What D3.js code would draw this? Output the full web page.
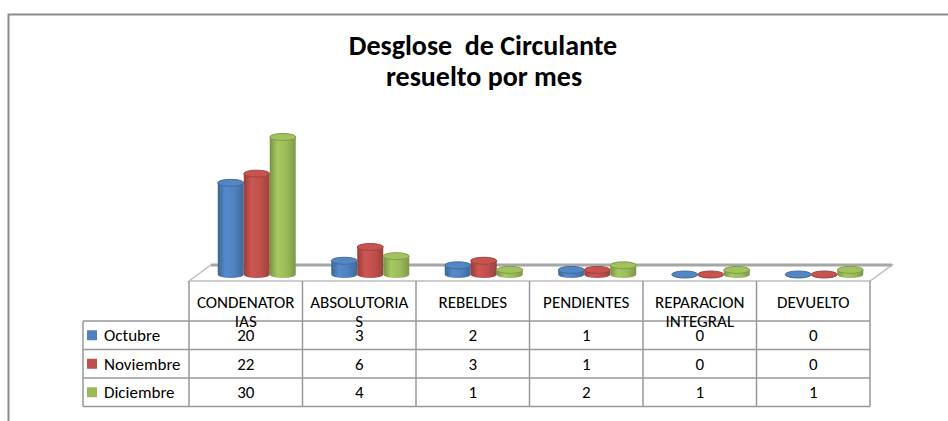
<!DOCTYPE html>
<html>
<head>
<meta charset="utf-8">
<script src="https://cdn.jsdelivr.net/npm/d3@7"></script>
<style>
  body { margin: 0; background: #fff; }
  text { font-family: Carlito, Calibri, Lato, sans-serif; }
</style>
</head>
<body>
<div id="chart"></div>
<script>
// data
var categories = ["CONDENATORIAS", "ABSOLUTORIAS", "REBELDES", "PENDIENTES", "REPARACION INTEGRAL", "DEVUELTO"];
var tickLabels = [["CONDENATOR", "IAS"], ["ABSOLUTORIA", "S"], ["REBELDES"], ["PENDIENTES"], ["REPARACION", "INTEGRAL"], ["DEVUELTO"]];
var seriesNames = ["Octubre", "Noviembre", "Diciembre"];
var octubre = [20, 3, 2, 1, 0, 0];
var noviembre = [22, 6, 3, 1, 0, 0];
var diciembre = [30, 4, 1, 2, 1, 1];
var seriesValues = [octubre, noviembre, diciembre];
var colors = ["#4F81BD", "#C0504D", "#9BBB59"];

var width = 948, height = 421;
var svg = d3.select("#chart").append("svg")
    .attr("width", width)
    .attr("height", height);

// gradients for the cylinders
var defs = svg.append("defs");
colors.forEach(function(c, i) {
    var g = defs.append("linearGradient").attr("id", "grad" + i)
        .attr("x1", "0%").attr("x2", "100%").attr("y1", "0%").attr("y2", "0%");
    var base = d3.color(c);
    g.append("stop").attr("offset", "0%").attr("stop-color", base.darker(0.7));
    g.append("stop").attr("offset", "30%").attr("stop-color", base.brighter(0.2));
    g.append("stop").attr("offset", "65%").attr("stop-color", base);
    g.append("stop").attr("offset", "100%").attr("stop-color", base.darker(0.6));
});

// outer frame
svg.append("path")
    .attr("d", "M8.5,421 L8.5,14.5 L948,14.5")
    .attr("fill", "none").attr("stroke", "#8c8c8c").attr("stroke-width", 2);

// title
var title = svg.append("text")
    .attr("text-anchor", "middle")
    .attr("font-weight", "bold")
    .attr("font-size", 28)
    .style("white-space", "pre")
    .attr("fill", "#000");
title.append("tspan").attr("x", 483).attr("y", 55).text("Desglose  de Circulante");
title.append("tspan").attr("x", 484).attr("y", 86).text("resuelto por mes");

// scales
var x = d3.scaleBand().domain(categories).range([189, 870]).paddingInner(0).paddingOuter(0);
var y = d3.scaleLinear().domain([0, 30]).range([274.5, 137]);
var depth = 22, floorFront = 281, floorBack = 265;
var xs = d3.scaleBand().domain(seriesNames).range([0, 78]);

// floor
svg.append("path")
    .attr("d", "M" + x.range()[0] + "," + floorFront +
        " L" + (x.range()[0] + depth) + "," + floorBack +
        " L" + (x.range()[1] + depth) + "," + floorBack +
        " L" + x.range()[1] + "," + floorFront + " Z")
    .attr("fill", "#fff").attr("stroke", "#bdbdbd").attr("stroke-width", 1.5);
svg.append("line")
    .attr("x1", x.range()[0] + depth).attr("x2", x.range()[1] + depth)
    .attr("y1", floorBack).attr("y2", floorBack)
    .attr("stroke", "#a6a6a6").attr("stroke-width", 3);

// cylinders
var rx = 13, ry = 3.5;
var barData = [];
categories.forEach(function(cat, ci) {
    seriesNames.forEach(function(s, si) {
        barData.push({cat: cat, series: s, si: si, value: seriesValues[si][ci]});
    });
});

var bars = svg.append("g").selectAll("g")
    .data(barData)
    .join("g")
    .attr("transform", function(d) {
        var cx = x(d.cat) + x.bandwidth() / 2 + depth / 2 - 39 + xs(d.series) + xs.bandwidth() / 2;
        return "translate(" + cx + ",0)";
    });

bars.append("path")
    .attr("d", function(d) {
        var top = y(d.value), base = y(0);
        return "M" + (-rx) + "," + top + " L" + (-rx) + "," + base +
            " A" + rx + "," + ry + " 0 0 0 " + rx + "," + base +
            " L" + rx + "," + top + " Z";
    })
    .attr("fill", function(d) { return "url(#grad" + d.si + ")"; });

bars.append("ellipse")
    .attr("cx", 0)
    .attr("cy", function(d) { return y(d.value); })
    .attr("rx", rx).attr("ry", ry)
    .attr("fill", function(d) { return d3.color(colors[d.si]).brighter(0.1); })
    .attr("stroke", function(d) { return d3.color(colors[d.si]).darker(0.5); })
    .attr("stroke-width", 1);

// data table
var rowTop = 321, rowH = 28.5, legendLeft = 83;
var lineColor = "#999";
var table = svg.append("g");

// header verticals
table.selectAll("line.v")
    .data(categories.concat(["end"]))
    .join("line")
    .attr("x1", function(d, i) { return i < categories.length ? x(d) : x.range()[1]; })
    .attr("x2", function(d, i) { return i < categories.length ? x(d) : x.range()[1]; })
    .attr("y1", floorFront).attr("y2", rowTop + rowH * 3)
    .attr("stroke", lineColor).attr("stroke-width", 1.5);

// legend column left edge
table.append("line")
    .attr("x1", legendLeft).attr("x2", legendLeft)
    .attr("y1", rowTop).attr("y2", rowTop + rowH * 3)
    .attr("stroke", lineColor).attr("stroke-width", 1.5);

// horizontal lines
table.selectAll("line.h")
    .data([0, 1, 2, 3])
    .join("line")
    .attr("x1", legendLeft).attr("x2", x.range()[1])
    .attr("y1", function(d) { return rowTop + d * rowH; })
    .attr("y2", function(d) { return rowTop + d * rowH; })
    .attr("stroke", lineColor).attr("stroke-width", 1.5);

// header labels (wrapped like the original)
var heads = table.selectAll("text.head")
    .data(categories)
    .join("text")
    .attr("text-anchor", "middle")
    .attr("font-size", 17)
    .attr("fill", "#000");
heads.each(function(d, i) {
    var t = d3.select(this);
    tickLabels[i].forEach(function(line, li) {
        t.append("tspan")
            .attr("x", x(d) + x.bandwidth() / 2)
            .attr("y", 308 + li * 19)
            .text(line);
    });
});

// legend entries
var legendRows = table.selectAll("g.leg")
    .data(seriesNames)
    .join("g")
    .attr("transform", function(d, i) { return "translate(0," + (rowTop + i * rowH) + ")"; });
legendRows.append("rect")
    .attr("x", 87).attr("y", rowH / 2 - 5)
    .attr("width", 10).attr("height", 10)
    .attr("fill", function(d, i) { return colors[i]; });
legendRows.append("text")
    .attr("x", 104).attr("y", rowH / 2 + 6)
    .attr("font-size", 17)
    .text(function(d) { return d; });

// values
legendRows.each(function(s, si) {
    d3.select(this).selectAll("text.val")
        .data(seriesValues[si])
        .join("text")
        .attr("x", function(v, ci) { return x(categories[ci]) + x.bandwidth() / 2; })
        .attr("y", rowH / 2 + 6)
        .attr("text-anchor", "middle")
        .attr("font-size", 17)
        .text(function(v) { return v; });
});
</script>
</body>
</html>
